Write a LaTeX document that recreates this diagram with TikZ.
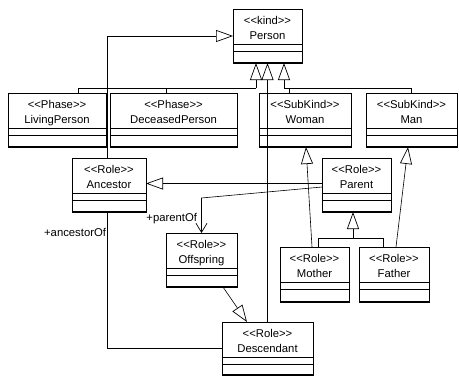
\documentclass[tikz,border=0pt]{standalone}
\usepackage{fontspec}
\setmainfont{Liberation Sans}[Ligatures=TeXOff]
\usetikzlibrary{arrows.meta}
\newcommand{\st}[1]{<\kern0pt<#1>\kern0pt>}
\tikzset{
  cls/.style={draw, line width=0.7pt, inner sep=0pt, outer sep=0pt, anchor=north west},
  lbl/.style={font=\fontsize{11.3}{13}\selectfont, inner sep=0pt, outer sep=0pt},
  gen/.style={line width=0.6pt, -{Triangle[open, length=17pt, width=12pt, line width=0.7pt]}},
  nav/.style={line width=0.6pt, -{Straight Barb[length=9pt, width=11pt, line width=0.7pt]}},
  asc/.style={line width=0.6pt},
  cline/.style={line width=0.7pt},
  bline/.style={line width=1.5pt}
}
\newcommand{\umlbox}[7]{%
  \node[cls, minimum width={(#4-#2)*1pt}, minimum height={(#5-#3)*1pt}] (#1) at (#2,#3) {};
  \node[lbl, anchor=base] (#1-s) at ([yshift=-15pt]#1.north) {\st{#6}};
  \node[lbl, anchor=base] (#1-n) at ([yshift=-30pt]#1.north) {#7};
  \draw[cline] ([yshift=-35pt]#1.north west) -- ([yshift=-35pt]#1.north east);
  \draw[cline] ([yshift=-42pt]#1.north west) -- ([yshift=-42pt]#1.north east);
  \draw[bline] (#1.south west) -- (#1.south east);
}
\begin{document}
\begin{tikzpicture}[x=1pt, y=-1pt]
\useasboundingbox (0,0) rectangle (459,376);
% classes
\umlbox{Person}{233}{9}{302}{63}{kind}{Person}
\umlbox{LivingPerson}{8}{93}{106}{147}{Phase}{LivingPerson}
\umlbox{DeceasedPerson}{110}{93}{237}{147}{Phase}{DeceasedPerson}
\umlbox{Woman}{259}{93}{351}{147}{SubKind}{Woman}
\umlbox{Man}{366}{93}{457}{147}{SubKind}{Man}
\umlbox{Ancestor}{72}{158}{146}{212}{Role}{Ancestor}
\umlbox{Parent}{322}{158}{391}{212}{Role}{Parent}
\umlbox{Offspring}{166}{233}{237}{287}{Role}{Offspring}
\umlbox{Mother}{280}{247}{349}{302}{Role}{Mother}
\umlbox{Father}{359}{247}{429}{302}{Role}{Father}
\umlbox{Descendant}{222}{322}{313}{375}{Role}{Descendant}
% junctions
\coordinate (t1) at (256,88);
\coordinate (t2) at (284,88);
\coordinate (t3) at (353,238);
\coordinate (b1) at (201.5,198);
% generalizations to Person
\draw[gen] ([xshift=-2pt]Ancestor.north) |- (Person.west);
\draw[asc] ([xshift=21pt]LivingPerson.north) |- (t1);
\draw[asc] ([xshift=-7.5pt]DeceasedPerson.north) |- (t1);
\draw[gen] (t1) -- ([xshift=-11.5pt]Person.south);
\draw[gen] (Descendant.north) -- (Person.south);
\draw[asc] ([xshift=-16pt]Woman.north) |- (t2);
\draw[asc] (Man.north) |- (t2);
\draw[gen] (t2) -- ([xshift=16.5pt]Person.south);
% roles
\draw[gen] ([xshift=-2.5pt]Mother.north) -- ([xshift=1pt]Woman.south);
\draw[gen] ([xshift=2pt]Father.north) -- ([xshift=-3.5pt]Man.south);
\draw[asc] ([xshift=3.5pt]Mother.north) |- (t3);
\draw[asc] ([xshift=-11pt]Father.north) |- (t3);
\draw[gen] (t3) -- ([xshift=-3.5pt]Parent.south);
\draw[gen] ([yshift=1.5pt]Parent.west) -- ([yshift=1.5pt]Ancestor.east);
\draw[gen] ([xshift=21.5pt]Offspring.south) -- ([xshift=-20.5pt]Descendant.north);
% associations
\draw[nav] ([yshift=-2pt]Parent.west) -- (b1) -- (Offspring.north);
\node[lbl, anchor=base east] (lpo) at (197,221) {+parentOf};
\draw[asc] ([xshift=-2pt]Ancestor.south) |- (Descendant.west);
\node[lbl, anchor=base east] (lao) at (106,236) {+ancestorOf};
\end{tikzpicture}
\end{document}
